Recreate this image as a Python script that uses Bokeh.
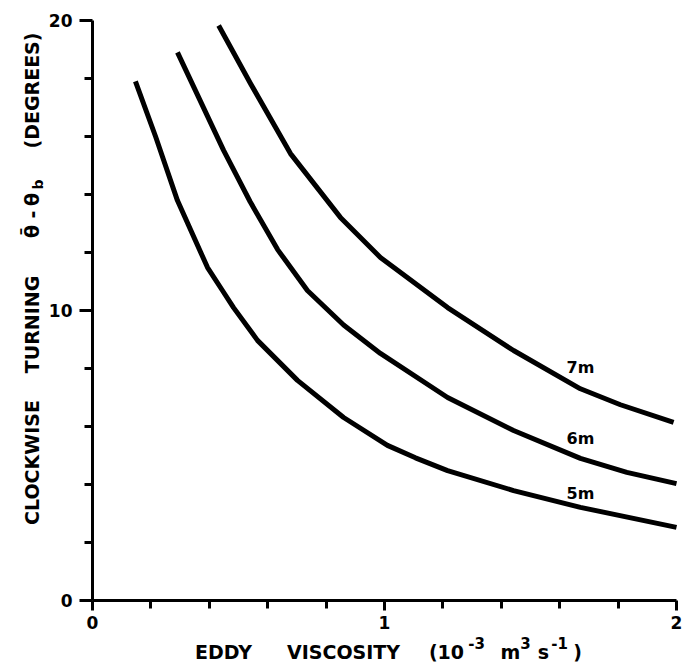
import math
from bokeh.plotting import figure
from bokeh.models import Range1d, FixedTicker, Label
from bokeh.core.properties import value
from bokeh.embed import file_html
from bokeh.resources import INLINE

# ---- data ----
x_5m = [0.147, 0.216, 0.291, 0.394, 0.445, 0.483, 0.565, 0.702, 0.860, 1.010, 1.106, 1.216, 1.442, 1.671, 2.0]
y_5m = [17.90, 16.00, 13.79, 11.48, 10.69, 10.10, 8.97, 7.59, 6.31, 5.35, 4.92, 4.48, 3.79, 3.21, 2.52]

x_6m = [0.291, 0.449, 0.540, 0.634, 0.736, 0.860, 0.986, 1.216, 1.442, 1.671, 1.830, 2.0]
y_6m = [18.90, 15.52, 13.75, 12.10, 10.69, 9.50, 8.52, 7.00, 5.86, 4.90, 4.42, 4.03]

x_7m = [0.432, 0.541, 0.678, 0.849, 0.986, 1.216, 1.442, 1.671, 1.808, 1.99]
y_7m = [19.83, 17.83, 15.41, 13.21, 11.83, 10.10, 8.62, 7.30, 6.75, 6.14]

curve_names = ["7m", "6m", "5m"]
curve_label_x = [1.671, 1.671, 1.671]
curve_label_y = [8.03, 5.59, 3.69]

x_major = [0, 1, 2]
x_minor = [0.2, 0.4, 0.6, 0.8, 1.2, 1.4, 1.6, 1.8]
y_major = [0, 10, 20]
y_minor = [2, 4, 6, 8, 12, 14, 16, 18]

FONT = "DejaVu Sans"

W, H = 682, 668
X0_PX, PX_PER_X = 92, 292.0     # pixel of x=0, pixels per x unit
Y0_PX, PX_PER_Y = 600, 29.0     # pixel (from top) of y=0, pixels per y unit

p = figure(width=W, height=H, output_backend="svg", toolbar_location=None,
           x_range=Range1d(-X0_PX / PX_PER_X, (W - X0_PX) / PX_PER_X),
           y_range=Range1d(-(H - Y0_PX) / PX_PER_Y, Y0_PX / PX_PER_Y),
           min_border_left=0, min_border_right=0, min_border_top=0, min_border_bottom=0)
p.outline_line_color = None
p.grid.visible = False
p.background_fill_color = "white"
p.border_fill_color = "white"

for ax in (p.xaxis[0], p.yaxis[0]):
    ax.fixed_location = 0
    ax.axis_line_width = 3
    ax.axis_line_color = "black"
    ax.major_tick_line_width = 3
    ax.minor_tick_line_width = 3
    ax.major_tick_line_color = "black"
    ax.minor_tick_line_color = "black"
    ax.major_tick_in = 0
    ax.minor_tick_in = 0
    ax.major_label_text_font = FONT
    ax.major_label_text_font_style = "bold"
    ax.major_label_text_font_size = "17px"
    ax.major_label_text_color = "black"

p.xaxis[0].bounds = (0, 2)
p.yaxis[0].bounds = (0, 20)
p.xaxis[0].ticker = FixedTicker(ticks=x_major, minor_ticks=x_minor)
p.yaxis[0].ticker = FixedTicker(ticks=y_major, minor_ticks=y_minor)
p.xaxis[0].major_tick_out = 10
p.xaxis[0].minor_tick_out = 8
p.xaxis[0].major_label_standoff = 5
p.yaxis[0].major_tick_out = 13
p.yaxis[0].minor_tick_out = 8
p.yaxis[0].major_label_standoff = 7

for xs, ys in ((x_5m, y_5m), (x_6m, y_6m), (x_7m, y_7m)):
    p.line(xs, ys, line_width=5, line_color="black", line_cap="butt", line_join="round")

p.text(x=curve_label_x, y=curve_label_y, text=curve_names,
       text_font=value(FONT), text_font_style="bold", text_font_size="16px",
       text_align="center", text_baseline="middle", text_color="black")

def lab(px, py, t, size="19px", angle=0.0):
    # px, py: pixel position measured from the page's top-left corner
    p.add_layout(Label(x=px, y=H - py, x_units="screen", y_units="screen", text=t,
                       angle=angle, text_font=FONT,
                       text_font_style="bold", text_font_size=size,
                       text_align="center", text_baseline="middle",
                       text_color="black"))

# y-axis title pieces (rotated)
R = math.pi / 2
lab(31, 462, "CLOCKWISE", angle=R)
lab(31, 324, "TURNING", angle=R)
lab(31, 231, "θ\u0304", angle=R)
lab(31, 214, "-", angle=R)
lab(31, 199, "θ", angle=R)
lab(37, 184, "b", size="14px", angle=R)
lab(31, 90, "(DEGREES)", angle=R)

# x-axis title pieces
lab(223, 651, "EDDY")
lab(343, 651, "VISCOSITY")
lab(446, 651, "(10")
lab(476, 642, "-3", size="15px")
lab(510, 651, "m")
lab(525, 642, "3", size="15px")
lab(543, 651, "s")
lab(559, 642, "-1", size="15px")
lab(577, 651, ")")

open("out.html", "w").write(file_html(p, INLINE))
